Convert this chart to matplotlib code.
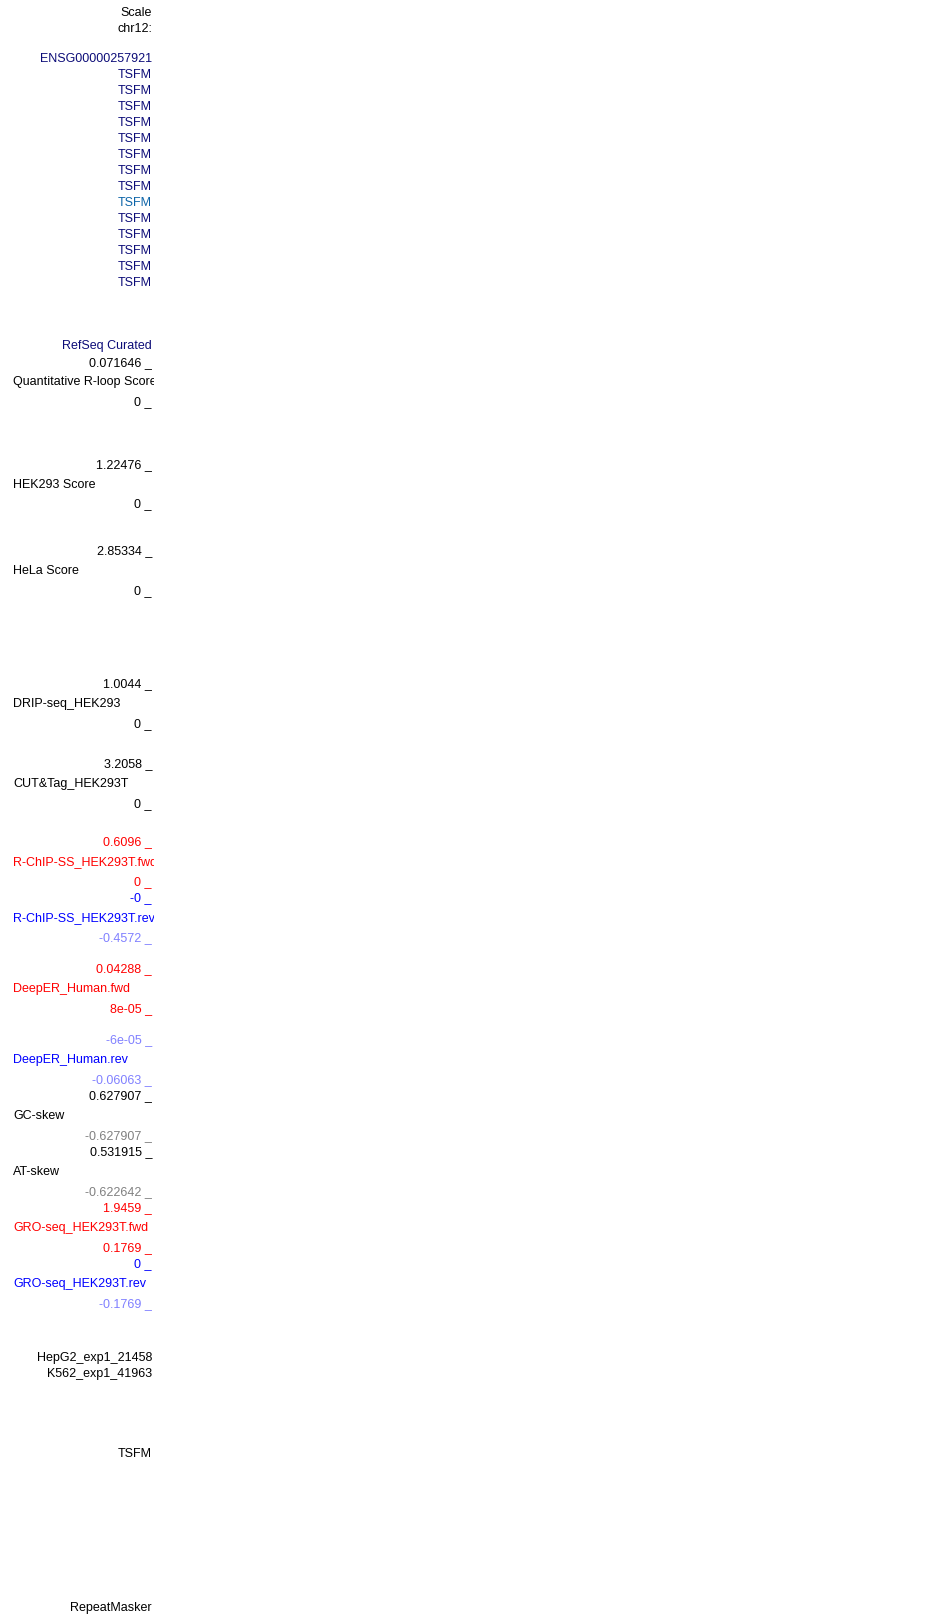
import matplotlib.pyplot as plt

plt.rcParams['font.family'] = ['Liberation Sans', 'DejaVu Sans']

# colours used in the label panel
BLACK = '#000000'
NAVY = '#0c0c78'
HILITE = '#0c64a8'
RED = '#ff0000'
BLUE = '#0000ff'
LBLUE = '#8080ff'
GRAY = '#808080'

# right-aligned labels: text, y centre (px), colour
right_text = ['Scale', 'chr12:', 'ENSG00000257921'] + ['TSFM'] * 14 + [
    'RefSeq Curated', '0.071646 _', '0 _',
    '1.22476 _', '0 _',
    '2.85334 _', '0 _',
    '1.0044 _', '0 _',
    '3.2058 _', '0 _',
    '0.6096 _', '0 _', '-0 _', '-0.4572 _',
    '0.04288 _', '8e-05 _', '-6e-05 _', '-0.06063 _',
    '0.627907 _', '-0.627907 _',
    '0.531915 _', '-0.622642 _',
    '1.9459 _', '0.1769 _', '0 _', '-0.1769 _',
    'HepG2_exp1_21458', 'K562_exp1_41963', 'TSFM', 'RepeatMasker',
]
right_y = [11, 28, 57] + [73.3 + 16 * i for i in range(14)] + [
    344.3, 361.3, 401,
    464, 503,
    549.3, 589.3,
    682.7, 722.7,
    762.7, 802.7,
    840.7, 880.7, 896.7, 936.7,
    967.7, 1007.7, 1039, 1079,
    1095, 1134.3,
    1151, 1190.3,
    1206.7, 1246.7, 1262.7, 1302.7,
    1356.7, 1372.7, 1452.7, 1606.7,
]
right_color = [BLACK, BLACK, NAVY] + [NAVY] * 8 + [HILITE] + [NAVY] * 5 + [
    NAVY, BLACK, BLACK,
    BLACK, BLACK,
    BLACK, BLACK,
    BLACK, BLACK,
    BLACK, BLACK,
    RED, RED, BLUE, LBLUE,
    RED, RED, LBLUE, LBLUE,
    BLACK, GRAY,
    BLACK, GRAY,
    RED, RED, BLUE, LBLUE,
    BLACK, BLACK, BLACK, BLACK,
]

# left-aligned track names
left_text = ['Quantitative R-loop Score', 'HEK293 Score', 'HeLa Score',
             'DRIP-seq_HEK293', 'CUT&Tag_HEK293T',
             'R-ChIP-SS_HEK293T.fwd', 'R-ChIP-SS_HEK293T.rev',
             'DeepER_Human.fwd', 'DeepER_Human.rev',
             'GC-skew', 'AT-skew',
             'GRO-seq_HEK293T.fwd', 'GRO-seq_HEK293T.rev']
left_y = [381, 483, 569.3, 702.7, 782.7, 860.7, 916.7,
          987.7, 1059, 1114.7, 1171, 1226.7, 1282.7]
left_color = [BLACK, BLACK, BLACK, BLACK, BLACK, RED, BLUE,
              RED, BLUE, BLACK, BLACK, RED, BLUE]

W, H = 950, 1615
fig = plt.figure(figsize=(W / 100, H / 100), dpi=100)
fig.patch.set_facecolor('white')

# label panel, clipped at its right edge like the browser does
PANEL = 153.5
ax = fig.add_axes([0, 0, PANEL / W, 1])
ax.set_xlim(0, PANEL)
ax.set_ylim(H, 0)
ax.axis('off')

FS = 9.0
for t, y, c in zip(right_text, right_y, right_color):
    ax.text(152, y + 4.5, t, ha='right', va='baseline', fontsize=FS,
            color=c, clip_on=True)
for t, y, c in zip(left_text, left_y, left_color):
    ax.text(13, y + 4.5, t, ha='left', va='baseline', fontsize=FS,
            color=c, clip_on=True)

fig.savefig('out.png', dpi=100, facecolor='white')
